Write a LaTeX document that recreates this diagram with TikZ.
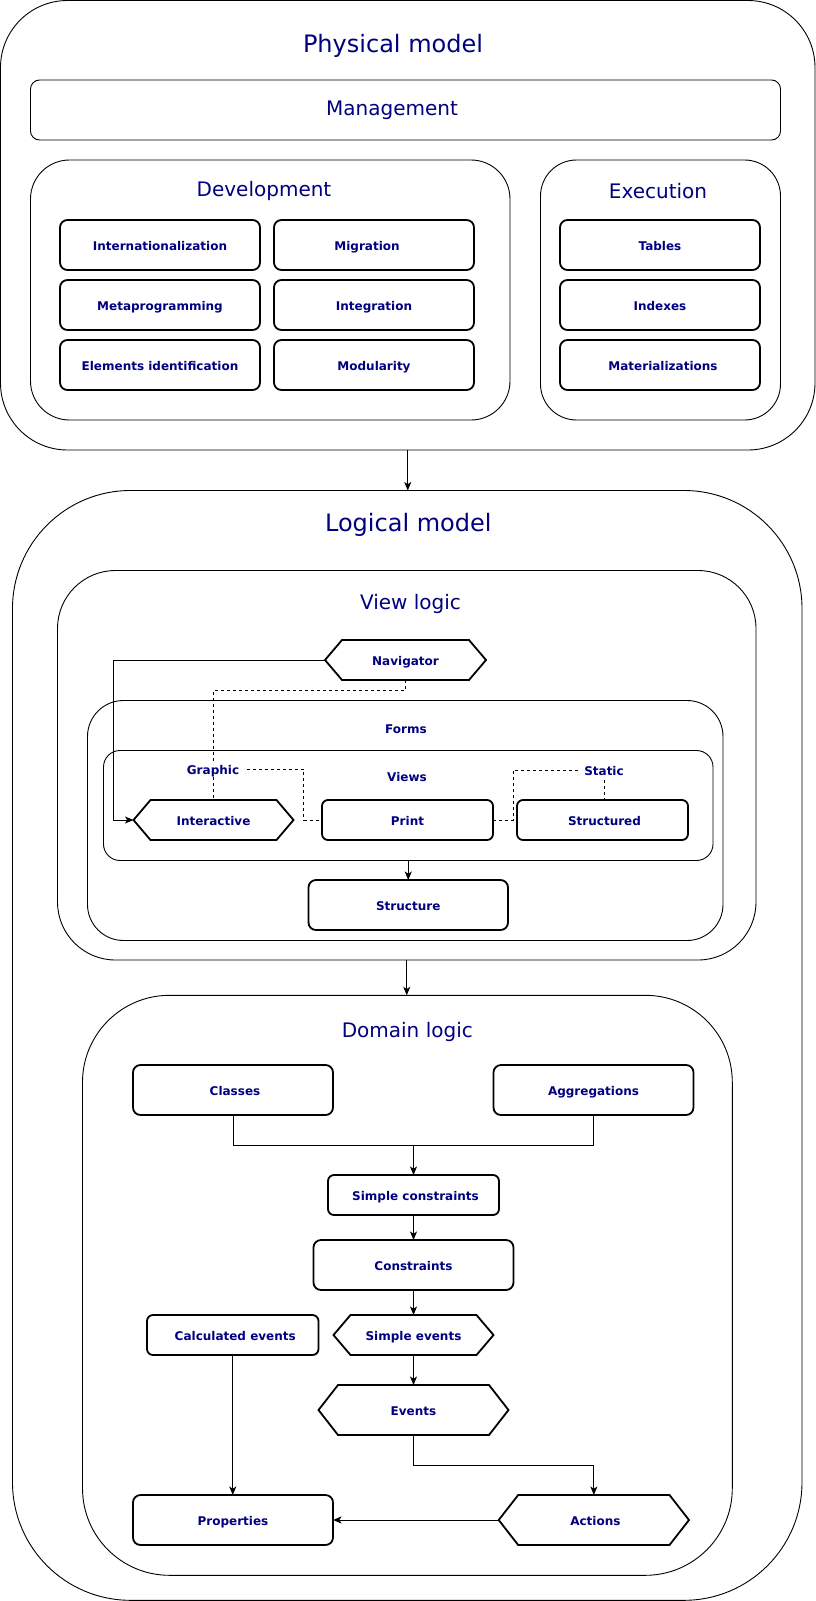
\documentclass[tikz,border=0pt]{standalone}
\usepackage{fontspec}
\setmainfont{DejaVu Sans}
\usetikzlibrary{arrows.meta,calc}
\definecolor{txt}{RGB}{0,0,128}
\begin{document}
\begin{tikzpicture}[x=1pt,y=-1pt,
  every node/.style={outer sep=0pt, inner sep=0pt, text=txt},
  container/.style={draw=black, line width=0.9pt, rectangle},
  boldtext/.style={font=\bfseries\fontsize{12}{14}\selectfont, text height=13pt, text depth=2.4pt},
  item/.style={draw=black, line width=1.8pt, rectangle, rounded corners=7.5pt, boldtext},
  smallitem/.style={item, rounded corners=6pt},
  hexbox/.style={draw=none, rectangle, boldtext},
  hexline/.style={draw=black, line width=1.8pt, line join=miter},
  conn/.style={draw=black, line width=1pt, -{Stealth[length=8.5pt,width=7pt,inset=2.2pt]}},
  plain/.style={draw=black, line width=1pt},
  dashconn/.style={draw=black, line width=1pt, dash pattern=on 3pt off 3pt},
  bigtitle/.style={font=\fontsize{24}{28}\selectfont},
  subtitle/.style={font=\fontsize{20}{24}\selectfont},
  lbl/.style={boldtext}
]
\fill[white] (0,0) rectangle (816,1601);
\useasboundingbox (0,0) rectangle (816,1601);

% ---------- Physical model ----------
\node[container, rounded corners=67pt, minimum width=814.5pt, minimum height=449.5pt] (phys) at (407.75,225.25) {};
\node[bigtitle] (physt) at (393,46) {Physical model};
\node[container, rounded corners=9pt, minimum width=750pt, minimum height=60pt] (mgmt) at (405.5,110) {};
\node[subtitle] (mgmtt) at (392,110) {Management};
\node[container, rounded corners=39pt, minimum width=479.5pt, minimum height=260pt] (dev) at (270.25,290) {};
\node[subtitle] (devt) at (264,191) {Development};
\node[container, rounded corners=36pt, minimum width=240pt, minimum height=260pt] (exec) at (660.5,290) {};
\node[subtitle] (exect) at (658,191) {Execution};

\node[item, minimum width=200pt, minimum height=50pt] (intl) at (160,245) {Internationalization};
\node[item, minimum width=200pt, minimum height=50pt] (migr) at (374,245) {\hspace*{-14pt}Migration};
\node[item, minimum width=200pt, minimum height=50pt] (meta) at (160,305) {Metaprogramming};
\node[item, minimum width=200pt, minimum height=50pt] (integ) at (374,305) {Integration};
\node[item, minimum width=200pt, minimum height=50pt] (elem) at (160,365) {Elements identification};
\node[item, minimum width=200pt, minimum height=50pt] (modul) at (374,365) {Modularity};
\node[item, minimum width=200pt, minimum height=50pt] (tables) at (660,245) {Tables};
\node[item, minimum width=200pt, minimum height=50pt] (indexes) at (660,305) {Indexes};
\node[item, minimum width=200pt, minimum height=50pt] (mater) at (660,365) {\hspace*{6pt}Materializations};

% ---------- Logical model ----------
\node[container, rounded corners=118pt, minimum width=789.5pt, minimum height=1109.8pt] (logic) at (407.25,1045.4) {};
\node[bigtitle] (logict) at (408.3,524.7) {Logical model};

\node[container, rounded corners=58pt, minimum width=698.5pt, minimum height=389.5pt] (viewl) at (406.75,765.25) {};
\node[subtitle] (viewlt) at (410.5,604.3) {View logic};
\node[container, rounded corners=36pt, minimum width=635.5pt, minimum height=240pt] (forms) at (405.25,820.5) {};
\node[lbl] (formst) at (406,728) {Forms};
\node[container, rounded corners=16.5pt, minimum width=609.5pt, minimum height=110pt] (views) at (408.25,805.5) {};
\node[lbl] (viewst) at (407,776) {Views};

\node[hexbox, minimum width=161pt, minimum height=40pt] (nav) at (405.5,660) {Navigator};
\node[hexbox, minimum width=160pt, minimum height=40pt] (inter) at (213.5,820) {Interactive};
\node[smallitem, minimum width=171pt, minimum height=40pt] (print) at (407.5,820) {Print};
\node[smallitem, minimum width=171pt, minimum height=40pt] (structd) at (602.5,820) {\hspace*{4pt}Structured};
\node[item, minimum width=199.5pt, minimum height=50pt] (structure) at (408.25,905) {Structure};
\node[lbl, minimum width=67pt, minimum height=16pt] (graphic) at (213,769) {Graphic};
\node[lbl, minimum width=48pt, minimum height=20pt] (static) at (604,770) {Static};

% ---------- Domain logic ----------
\node[container, rounded corners=87pt, minimum width=649.8pt, minimum height=580pt] (domain) at (407.4,1285.3) {};
\node[subtitle] (domaint) at (407.3,1032) {Domain logic};

\node[item, minimum width=200pt, minimum height=50pt] (classes) at (233,1090) {\hspace*{4pt}Classes};
\node[item, minimum width=200pt, minimum height=50pt] (aggr) at (593.5,1090) {Aggregations};
\node[smallitem, minimum width=171pt, minimum height=40pt] (simplecons) at (413.5,1195) {\hspace*{4pt}Simple constraints};
\node[item, minimum width=200pt, minimum height=50pt] (constraints) at (413.5,1265) {Constraints};
\node[hexbox, minimum width=160pt, minimum height=40pt] (sev) at (413.5,1335) {Simple events};
\node[smallitem, minimum width=171.5pt, minimum height=40pt] (calc) at (232.75,1335) {\hspace*{5pt}Calculated events};
\node[hexbox, minimum width=190pt, minimum height=50pt] (ev) at (413.5,1410) {Events};
\node[hexbox, minimum width=190.3pt, minimum height=50pt] (act) at (593.85,1520) {\hspace*{3pt}Actions};
\node[item, minimum width=200pt, minimum height=50pt] (props) at (233,1520) {Properties};

% hexagon outlines
\foreach \n/\s in {nav/17,inter/17,sev/17,ev/19.5,act/19.5}
  \draw[hexline] (\n.west) -- ([xshift=\s pt]\n.north west) -- ([xshift=-\s pt]\n.north east)
     -- (\n.east) -- ([xshift=-\s pt]\n.south east) -- ([xshift=\s pt]\n.south west) -- cycle;

% ---------- connectors ----------
\draw[conn] (phys.south) -- (phys.south |- logic.north);
\draw[conn] (viewl.south) -- (viewl.south |- domain.north);
\draw[conn] (nav.west) -| ([xshift=-20pt]inter.west) -- (inter.west);
\draw[conn] (views.south) -- (views.south |- structure.north);

\draw[dashconn] (nav.south) -- ++(0,10) -| (graphic.north);
\draw[dashconn] (graphic.south) -- (graphic.south |- inter.north);
\draw[dashconn] (graphic.east) -| ([xshift=-18.5pt]print.west) -- (print.west);
\draw[dashconn] (print.east) -- ([xshift=20pt]print.east) |- (static.west);
\draw[dashconn] (static.south) -- (static.south |- structd.north);

\coordinate (merge) at ([yshift=30pt]simplecons.north);
\draw[plain] (classes.south) |- (merge);
\draw[plain] (aggr.south) |- (merge);
\draw[conn] (merge) -- (simplecons.north);
\draw[conn] (simplecons.south) -- (constraints.north);
\draw[conn] (constraints.south) -- (sev.north);
\draw[conn] (sev.south) -- (ev.north);
\draw[conn] (ev.south) -- ++(0,30) -| (act.north);
\draw[conn] (act.west) -- (props.east);
\draw[conn] (calc.south) -- (calc.south |- props.north);
\end{tikzpicture}
\end{document}
